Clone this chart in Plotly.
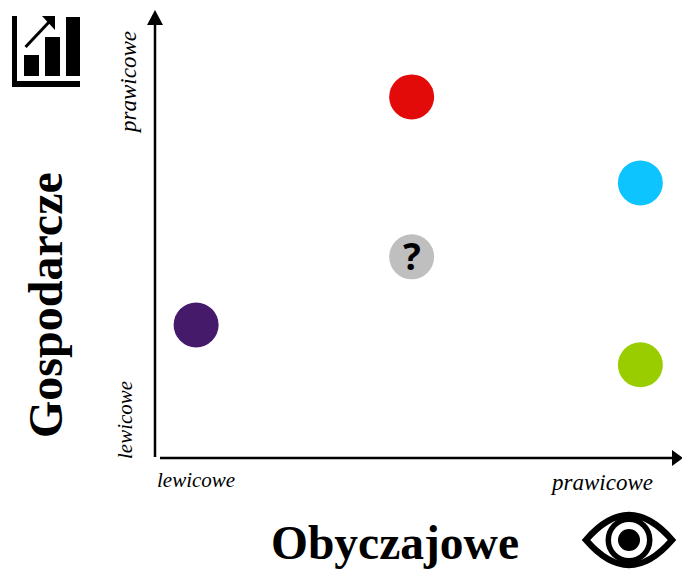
import plotly.graph_objects as go

W, H = 682, 569
L, R, T, B = 155, 682, 10, 458

# data (0-100 scale on both axes)
party_colors = ["#451a6b", "#e30a0a", "#0dc4ff", "#9acd00", "#bfbfbf"]
obyczajowe = [7.8, 48.7, 92.1, 92.1, 48.7]
gospodarcze = [29.7, 80.6, 61.4, 20.8, 44.9]
unknown_label = "?"
x_ticks = ["lewicowe", "prawicowe"]
y_ticks = ["lewicowe", "prawicowe"]
x_title = "Obyczajowe"
y_title = "Gospodarcze"

def px(x): return (x - L) / (R - L)
def py(y): return (B - y) / (B - T)
def P(points):
    return "M" + " L".join(f"{px(a):.5f},{py(b):.5f}" for a, b in points) + " Z"

def poly(points, fill="black"):
    return dict(type="path", xref="paper", yref="paper", path=P(points),
                fillcolor=fill, line=dict(width=0), layer="above")
def rect(x0, y0, x1, y1):
    return poly([(x0, y0), (x1, y0), (x1, y1), (x0, y1)])
def circle(cx, cy, r, fill):
    return dict(type="circle", xref="paper", yref="paper", x0=px(cx-r), x1=px(cx+r),
                y0=py(cy+r), y1=py(cy-r), fillcolor=fill, line=dict(width=0), layer="above")
def seg(x0, y0, x1, y1, w):
    return dict(type="line", xref="paper", yref="paper", x0=px(x0), y0=py(y0), x1=px(x1), y1=py(y1),
                line=dict(color="black", width=w), layer="above")

shapes = [
    # axes
    seg(155, 457, 155, 24, 2.5), poly([(147, 25), (163, 25), (155, 10)]),
    seg(160, 458, 673, 458, 2.5), poly([(672, 450), (672, 466), (683, 458)]),
    # chart icon
    rect(12, 16, 17, 87), rect(12, 81, 80, 87),
    rect(24, 55, 39, 76), rect(45, 37, 60, 76), rect(66, 17, 80, 76),
    seg(25.5, 47, 50, 21, 3), poly([(42, 16), (55, 16), (55, 30)]),
    # eye icon
    dict(type="path", xref="paper", yref="paper", layer="above",
         path=(f"M{px(586):.5f},{py(540):.5f} Q{px(629):.5f},{py(490):.5f} {px(672):.5f},{py(540):.5f} "
               f"Q{px(629):.5f},{py(590):.5f} {px(586):.5f},{py(540):.5f} Z"),
         fillcolor="white", line=dict(color="black", width=6.5)),
    circle(629, 540, 23.5, "black"), circle(629, 540, 18, "white"), circle(629, 540, 11, "black"),
]

def serif(size): return dict(family="Liberation Serif", size=size, color="black")
def note(text, x, y, font, rot=0):
    return dict(text=text, x=px(x), y=py(y), xref="paper", yref="paper", showarrow=False,
                xanchor="center", yanchor="middle", textangle=rot, font=font)

annotations = [
    note(f"<i>{x_ticks[0]}</i>", 196, 480, serif(21)),
    note(f"<i>{x_ticks[1]}</i>", 601, 482, serif(23)),
    note(f"<i>{y_ticks[0]}</i>", 125, 420, serif(21), -90),
    note(f"<i>{y_ticks[1]}</i>", 128, 83, serif(23), -90),
    note(f"<b>{x_title}</b>", 395, 543, serif(47.5)),
    note(f"<b>{y_title}</b>", 45, 305, serif(48), -90),
    dict(text=f"<b>{unknown_label}</b>", x=obyczajowe[4], y=gospodarcze[4], xref="x", yref="y",
         showarrow=False, xanchor="center", yanchor="middle", yshift=1,
         font=dict(family="Noto Sans", size=37, color="black")),
]

fig = go.Figure(go.Scatter(
    x=obyczajowe, y=gospodarcze, mode="markers",
    marker=dict(size=45, color=party_colors, line=dict(width=0)),
    hoverinfo="skip", cliponaxis=False,
))
fig.update_layout(
    width=W, height=H, autosize=False, showlegend=False,
    margin=dict(l=L, r=W-R, t=T, b=H-B),
    paper_bgcolor="white", plot_bgcolor="white",
    xaxis=dict(range=[0, 100], visible=False, fixedrange=True),
    yaxis=dict(range=[0, 100], visible=False, fixedrange=True),
    shapes=shapes, annotations=annotations,
)
fig.write_html("out.html", config=dict(displayModeBar=False),
               post_script="document.body.style.margin='0';document.body.style.overflow='hidden';")
